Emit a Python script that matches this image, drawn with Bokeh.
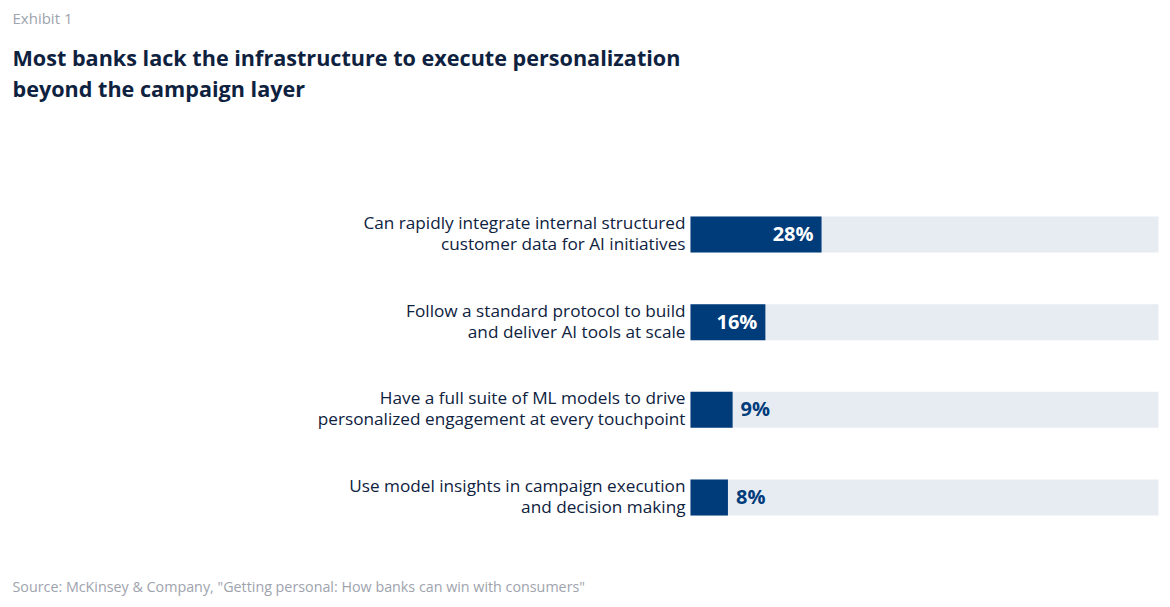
from bokeh.plotting import figure
from bokeh.models import Range1d
from bokeh.core.properties import value
from bokeh.embed import file_html
from bokeh.resources import INLINE

# --- data ---
label_line1 = [
    "Can rapidly integrate internal structured",
    "Follow a standard protocol to build",
    "Have a full suite of ML models to drive",
    "Use model insights in campaign execution",
]
label_line2 = [
    "customer data for AI initiatives",
    "and deliver AI tools at scale",
    "personalized engagement at every touchpoint",
    "and decision making",
]
shares = [28, 16, 9, 8]
share_labels = ["28%", "16%", "9%", "8%"]

exhibit = "Exhibit 1"
title_lines = [
    "Most banks lack the infrastructure to execute personalization",
    "beyond the campaign layer",
]
source = 'Source: McKinsey & Company, "Getting personal: How banks can win with consumers"'

W, H = 1170, 607
FONT = "Open Sans"
NAVY = "#003b7a"
TRACK = "#e7ecf3"
INK = "#0e2240"
GREY = "#9ea3ad"

# Bar area: 0..100 % spans pixels 690..1158; bar rows every ~87.7 px from y=234
px_per_pct = 4.68
x0 = -690 / px_per_pct
row_px = 87.67
y_top = -234 / row_px
y_bot = (H - 234) / row_px

p = figure(
    width=W, height=H,
    x_range=Range1d(x0, x0 + W / px_per_pct),
    y_range=Range1d(y_bot, y_top),
    output_backend="svg", toolbar_location=None,
    min_border=0, min_border_left=0, min_border_right=0,
    min_border_top=0, min_border_bottom=0,
)
p.axis.visible = False
p.grid.visible = False
p.outline_line_color = None
p.background_fill_color = "white"
p.border_fill_color = "white"

# pixel space for free-standing texts
p.extra_x_ranges = {"px": Range1d(0, W)}
p.extra_y_ranges = {"px": Range1d(H, 0)}

idx = list(range(len(shares)))
bar_h = 36 / row_px

p.hbar(y=idx, left=0, right=[100] * len(idx), height=bar_h,
       fill_color=TRACK, line_color=None)
p.hbar(y=idx, left=0, right=shares, height=bar_h,
       fill_color=NAVY, line_color=None)

# value labels: inside the bar when wide enough, otherwise just after it
inside = [s >= 12 for s in shares]
in_i = [i for i in idx if inside[i]]
out_i = [i for i in idx if not inside[i]]
p.text(x=[shares[i] for i in in_i], y=in_i, text=[share_labels[i] for i in in_i],
       x_offset=-8, y_offset=-1, text_align="right", text_baseline="middle",
       text_font=value(FONT), text_font_style="bold", text_font_size="20px",
       text_color="white")
p.text(x=[shares[i] for i in out_i], y=out_i, text=[share_labels[i] for i in out_i],
       x_offset=8, y_offset=-1, text_align="left", text_baseline="middle",
       text_font=value(FONT), text_font_style="bold", text_font_size="20px",
       text_color=NAVY)

# category labels, two lines each, right-aligned to the bar start
lab_kw = dict(x_offset=-5, text_align="right", text_baseline="middle",
              text_font=value(FONT), text_font_size="17.2px", text_color=INK)
p.text(x=[0] * len(idx), y=idx, text=label_line1, y_offset=-12, **lab_kw)
p.text(x=[0] * len(idx), y=idx, text=label_line2, y_offset=9, **lab_kw)

# header and footer
p.text(x=[12], y=[17], text=[exhibit], x_range_name="px", y_range_name="px",
       text_align="left", text_baseline="middle", text_font=value(FONT),
       text_font_size="15px", text_color=GREY)
p.text(x=[12, 12], y=[57, 88], text=title_lines, x_range_name="px", y_range_name="px",
       text_align="left", text_baseline="middle", text_font=value(FONT),
       text_font_size="21.6px", text_font_style="bold", text_color=INK)
p.text(x=[12], y=[586], text=[source], x_range_name="px", y_range_name="px",
       text_align="left", text_baseline="middle", text_font=value(FONT),
       text_font_size="14.3px", text_color=GREY)

open("out.html", "w").write(file_html(p, INLINE))
